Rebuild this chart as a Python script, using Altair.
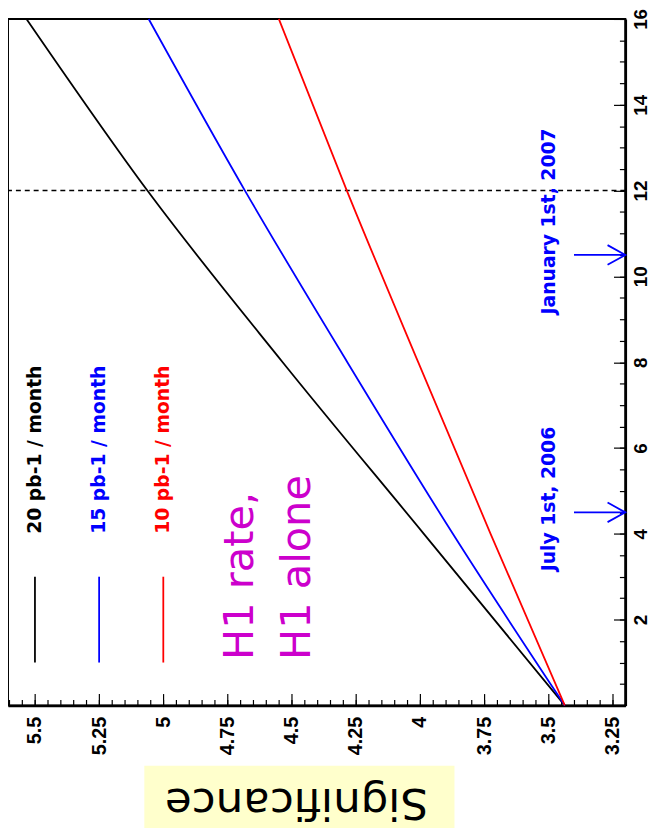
import altair as alt
import pandas as pd

# ---------------- data ----------------
months = [0, 4, 8, 12, 16]
sig_20 = [3.436, 3.985, 4.535, 5.062, 5.533]
sig_15 = [3.436, 3.872, 4.283, 4.682, 5.057]
sig_10 = [3.436, 3.725, 4.007, 4.285, 4.550]

series_labels = ["20 pb-1 / month", "15 pb-1 / month", "10 pb-1 / month"]
series_colors = ["#000000", "#0000ff", "#ff0000"]
legend_sig = [5.5, 5.25, 5.0]

sig_major = [3.25, 3.5, 3.75, 4.0, 4.25, 4.5, 4.75, 5.0, 5.25, 5.5]
sig_minor = [round(3.2 + 0.05 * i, 2) for i in range(49)]
month_major = [0, 2, 4, 6, 8, 10, 12, 14, 16]
month_labels = [2, 4, 6, 8, 10, 12, 14, 16]
month_minor = [0.5 * i for i in range(33)]

date_labels = ["July 1st, 2006", "January 1st, 2007"]
date_arrow_months = [4.5, 10.5]
date_text_months = [4.81, 11.28]
cut_month = 12

note_lines = ["H1 rate,", "H1 alone"]
note_sig = [4.70, 4.48]

# ---------------- tables ----------------
rows = []
for lab, vals in zip(series_labels, [sig_20, sig_15, sig_10]):
    for m, s in zip(months, vals):
        rows.append({"series": lab, "month": m, "sig": s})
lines_df = pd.DataFrame(rows)
leg_df = pd.DataFrame({"series": series_labels, "lx": legend_sig})
date_df = pd.DataFrame({"label": date_labels, "am": date_arrow_months, "tm": date_text_months})
note_df = pd.DataFrame({"label": note_lines, "nx": note_sig})
one = pd.DataFrame({"t": ["Significance"]})

W, H = 625, 695
xs = alt.Scale(domain=[3.2, 5.605], reverse=True, nice=False, zero=False)
ys = alt.Scale(domain=[0, 16], nice=False, zero=False)
col = alt.Color("series:N", scale=alt.Scale(domain=series_labels, range=series_colors), legend=None)

FONT = "DejaVu Sans"
AXFONT = "Liberation Sans"

main = alt.Chart(lines_df).mark_line(strokeWidth=1.8, interpolate="monotone").encode(
    x=alt.X("sig:Q", scale=xs, axis=alt.Axis(
        orient="bottom", values=sig_major, ticks=False, grid=False, title=None,
        labelAngle=-90, labelAlign="right", labelBaseline="middle", labelPadding=11,
        labelFont=AXFONT, labelFontWeight="bold", labelFontSize=20, labelColor="black",
        labelExpr="toString(datum.value)", labelOverlap=False, labelFlush=False,
        domain=True, domainColor="black", domainWidth=2.5)),
    y=alt.Y("month:Q", scale=ys, axis=alt.Axis(
        orient="right", values=month_labels, ticks=False, grid=False, title=None,
        labelAngle=-90, labelAlign="center", labelBaseline="top", labelPadding=6,
        labelFont=AXFONT, labelFontWeight="bold", labelFontSize=19, labelColor="black",
        labelOverlap=False, labelFlush=False,
        domain=True, domainColor="black", domainWidth=2.5)),
    color=col, detail="series:N",
)

def tick_layer(xv, yv, size):
    return alt.Chart(lines_df).mark_point(opacity=0).encode(
        x=alt.X("sig:Q", scale=xs, axis=alt.Axis(
            orient="bottom", values=xv, labels=False, domain=False, grid=False, title=None,
            ticks=True, tickSize=size, offset=-size, tickColor="black", tickWidth=1.2)),
        y=alt.Y("month:Q", scale=ys, axis=alt.Axis(
            orient="right", values=yv, labels=False, domain=False, grid=False, title=None,
            ticks=True, tickSize=size, offset=-size, tickColor="black", tickWidth=1.2)),
    )

major_ticks = tick_layer(sig_major, month_major, 12)
minor_ticks = tick_layer(sig_minor, month_minor, 6)

cut = alt.Chart(one).mark_rule(color="black", strokeWidth=1.6, strokeDash=[5, 4]).encode(
    y=alt.Y("m:Q", scale=ys, axis=None)
).transform_calculate(m=str(cut_month))

leg_rule = alt.Chart(leg_df).mark_rule(strokeWidth=1.8).encode(
    x=alt.X("lx:Q", scale=xs, axis=None),
    y=alt.datum(1, scale=ys, axis=None), y2=alt.datum(3),
    color=col,
)
leg_text = alt.Chart(leg_df).mark_text(angle=270, align="left", baseline="middle",
                                       font=FONT, fontWeight="bold", fontSize=19).encode(
    x=alt.X("lx:Q", scale=xs, axis=None),
    y=alt.datum(4.0, scale=ys, axis=None),
    text="series:N", color=col,
)

notes = alt.Chart(note_df).mark_text(angle=270, align="left", baseline="middle",
                                     font=FONT, fontSize=42, color="#cc00cc").encode(
    x=alt.X("nx:Q", scale=xs, axis=None),
    y=alt.datum(1.06, scale=ys, axis=None),
    text="label:N",
)

date_text = alt.Chart(date_df).mark_text(angle=270, align="center", baseline="middle",
                                         font=FONT, fontWeight="bold", fontSize=19,
                                         color="#0000ff").encode(
    x=alt.datum(3.497, scale=xs, axis=None),
    y=alt.Y("tm:Q", scale=ys, axis=None),
    text="label:N",
)
shaft = alt.Chart(date_df).mark_rule(color="#0000ff", strokeWidth=1.8).encode(
    x=alt.datum(3.40, scale=xs, axis=None), x2=alt.datum(3.2),
    y=alt.Y("am:Q", scale=ys, axis=None),
)
head = alt.Chart(date_df).mark_point(shape="M-2,-1.1L0,0L-2,1.1", filled=False,
                                     color="#0000ff", strokeWidth=1.8, size=324,
                                     opacity=1).encode(
    x=alt.datum(3.2, scale=xs, axis=None),
    y=alt.Y("am:Q", scale=ys, axis=None),
)

title_box = alt.Chart(one).mark_rect(color="#ffffcc").encode(
    x=alt.value(138), x2=alt.value(452), y=alt.value(756), y2=alt.value(840),
)
title_text = alt.Chart(one).mark_text(angle=180, align="center", baseline="middle",
                                      font=FONT, fontSize=44, color="black").encode(
    x=alt.value(292), y=alt.value(793), text="t:N",
)

chart = alt.layer(
    title_box, title_text, cut, main, major_ticks, minor_ticks,
    leg_rule, leg_text, notes, date_text, shaft, head,
).resolve_axis(x="independent", y="independent").properties(
    width=W, height=H,
    autosize=alt.AutoSizeParams(type="none"),
    padding={"left": 0, "top": 6, "right": 28, "bottom": 119},
).configure_view(stroke="black", strokeWidth=2).configure_axis(grid=False)

chart.save("out.html", embed_options={"renderer": "svg", "actions": False})
